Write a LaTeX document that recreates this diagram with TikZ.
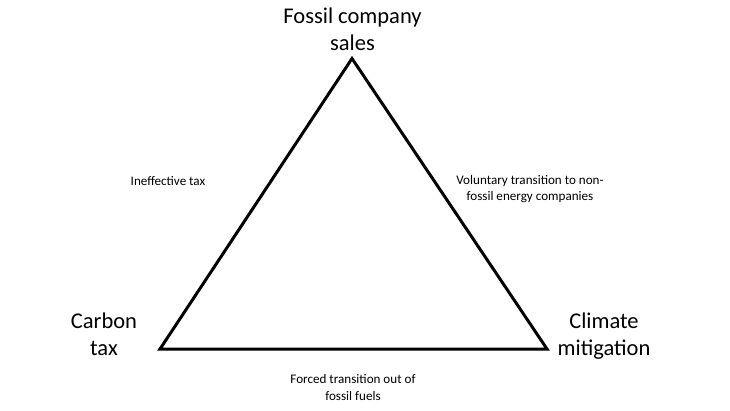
\documentclass[tikz,border=0pt]{standalone}
\usepackage{fontspec}
\setmainfont{Carlito}
\begin{document}
\begin{tikzpicture}[x=1pt,y=-1pt,
  biglabel/.style={inner sep=0pt, anchor=base, align=center, font=\fontsize{22.5}{26.5}\selectfont},
  smalllabel/.style={inner sep=0pt, anchor=base, align=center, font=\fontsize{13.1}{16.5}\selectfont},
  edge/.style={line width=3pt, line join=miter}]
  \useasboundingbox (0,0) rectangle (730,410);
  \coordinate (top) at (352,58.5);
  \coordinate (left) at (160,349);
  \coordinate (right) at (547,349);
  \draw[edge] (top) -- (right) -- (left) -- cycle;
  \node[biglabel] (fossil) at (352.5,50) {Fossil company\\sales};
  \node[biglabel] (carbon) at (104,355) {Carbon\\tax};
  \node[biglabel] (climate) at (604,355) {Climate\\mitigation};
  \node[smalllabel] (ineff) at (168,185.5) {Ineffective tax};
  \node[smalllabel] (volun) at (530,200.5) {Voluntary transition to non-\\fossil energy companies};
  \node[smalllabel] (forced) at (353,400) {Forced transition out of\\fossil fuels};
\end{tikzpicture}
\end{document}
